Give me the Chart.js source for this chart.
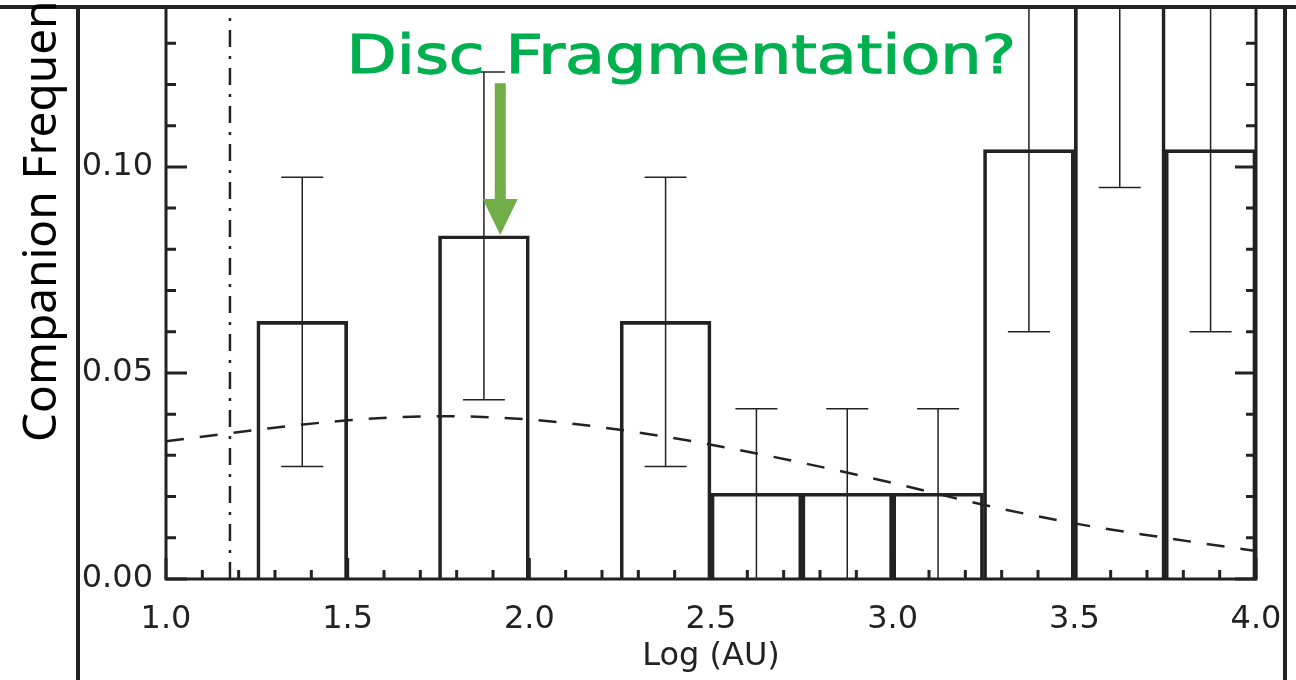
<!DOCTYPE html>
<html>
<head>
<meta charset="utf-8">
<script src="https://cdn.jsdelivr.net/npm/chart.js@4.4.1/dist/chart.umd.min.js"></script>
<style>
  html, body { margin: 0; padding: 0; background: #fff; }
</style>
</head>
<body>
<canvas id="chart" width="1296" height="680"></canvas>
<script>
// histogram bins (log AU), width 0.25
const binCenters = [1.375, 1.625, 1.875, 2.125, 2.375, 2.625, 2.875, 3.125, 3.375, 3.625, 3.875];
const freq = [0.0625, null, 0.0833, null, 0.0625, 0.0208, 0.0208, 0.0208, 0.1042, 0.146, 0.1042];
const errLo = [0.0273, null, 0.0435, null, 0.0273, 0, 0, 0, 0.060, 0.095, 0.060];
const errHi = [0.0975, null, 0.1230, null, 0.0975, 0.0413, 0.0413, 0.0413, 0.148, 0.197, 0.148];

// field distribution (dashed curve)
const curveX = [1.0, 1.25, 1.5, 1.75, 2.0, 2.25, 2.5, 2.75, 3.0, 3.25, 3.5, 3.75, 4.0];
const curveY = [0.0334, 0.0362, 0.0385, 0.0395, 0.0387, 0.0362, 0.0326, 0.0282, 0.0233, 0.0180, 0.0135, 0.0100, 0.0068];

// resolution limit (dash-dot line)
const limitX = 1.176;

const xTicks = [1.0, 1.5, 2.0, 2.5, 3.0, 3.5, 4.0];
const yTicks = [0.00, 0.05, 0.10];
const yMax = 0.1388;

const ink = "#222";

const errorBars = {
  id: "errorBars",
  afterDatasetsDraw(chart) {
    const { ctx, chartArea: a, scales: { x, y } } = chart;
    ctx.save();
    ctx.beginPath();
    ctx.rect(a.left, a.top, a.right - a.left, a.bottom - a.top);
    ctx.clip();
    ctx.strokeStyle = ink;
    ctx.lineWidth = 1.5;
    binCenters.forEach((c, i) => {
      if (errLo[i] === null) return;
      const px = x.getPixelForValue(c);
      const lo = y.getPixelForValue(errLo[i]);
      const hi = y.getPixelForValue(errHi[i]);
      ctx.beginPath();
      ctx.moveTo(px, lo);
      ctx.lineTo(px, hi);
      ctx.moveTo(px - 21, lo);
      ctx.lineTo(px + 21, lo);
      ctx.moveTo(px - 21, hi);
      ctx.lineTo(px + 21, hi);
      ctx.stroke();
    });
    ctx.restore();
  },
};

const frame = {
  id: "frame",
  afterDraw(chart) {
    const { ctx, chartArea: a, scales: { x, y } } = chart;
    ctx.save();
    ctx.strokeStyle = ink;
    ctx.lineWidth = 3;

    // plot box (left, bottom, right)
    ctx.beginPath();
    ctx.moveTo(a.left, a.top);
    ctx.lineTo(a.left, a.bottom);
    ctx.lineTo(a.right, a.bottom);
    ctx.lineTo(a.right, a.top);
    ctx.stroke();

    // inward ticks
    ctx.beginPath();
    for (let k = 0; k <= 13; k++) {
      const v = k / 100;
      const len = k % 5 === 0 ? 21 : 10;
      const py = y.getPixelForValue(v);
      ctx.moveTo(a.left, py);
      ctx.lineTo(a.left + len, py);
      ctx.moveTo(a.right, py);
      ctx.lineTo(a.right - len, py);
    }
    for (let k = 10; k <= 40; k++) {
      const v = k / 10;
      const len = k % 5 === 0 ? 21 : 9;
      const px = x.getPixelForValue(v);
      ctx.moveTo(px, a.bottom);
      ctx.lineTo(px, a.bottom - len);
    }
    ctx.stroke();

    // slide frame lines
    ctx.lineWidth = 4;
    ctx.beginPath();
    ctx.moveTo(0, 7);
    ctx.lineTo(chart.width, 7);
    ctx.moveTo(78, 7);
    ctx.lineTo(78, chart.height);
    ctx.moveTo(1285, 7);
    ctx.lineTo(1285, chart.height);
    ctx.stroke();

    // y title (cut off at the top like the slide)
    ctx.fillStyle = "#000";
    ctx.font = '46px "Noto Sans"';
    ctx.textAlign = "left";
    ctx.textBaseline = "alphabetic";
    ctx.translate(56, 442);
    ctx.rotate(-Math.PI / 2);
    ctx.fillText("Companion Frequency", 0, 0);
    ctx.restore();

    // annotation: green arrow to the 1.75-2.0 bin
    ctx.save();
    const tipX = x.getPixelForValue(1.92);
    const tipY = y.getPixelForValue(0.0835);
    const headY = y.getPixelForValue(0.0922);
    const topY = y.getPixelForValue(0.1203);
    ctx.fillStyle = "#70ad47";
    ctx.beginPath();
    ctx.moveTo(tipX - 5.5, topY);
    ctx.lineTo(tipX + 5.5, topY);
    ctx.lineTo(tipX + 5.5, headY);
    ctx.lineTo(tipX + 17.5, headY);
    ctx.lineTo(tipX, tipY);
    ctx.lineTo(tipX - 17.5, headY);
    ctx.lineTo(tipX - 5.5, headY);
    ctx.closePath();
    ctx.fill();

    // annotation text
    const label = "Disc Fragmentation?";
    const tx = x.getPixelForValue(1.497);
    const tw = x.getPixelForValue(3.34) - tx;
    const ty = y.getPixelForValue(0.1228);
    ctx.fillStyle = "#00b050";
    ctx.font = '500 54px "DejaVu Sans"';
    ctx.textBaseline = "alphabetic";
    const w = ctx.measureText(label).width;
    ctx.translate(tx, ty);
    ctx.scale(tw / w, 1);
    ctx.fillText(label, 0, 0);
    ctx.lineWidth = 1.2;
    ctx.strokeStyle = "#00b050";
    ctx.strokeText(label, 0, 0);
    ctx.restore();
  },
};

new Chart(document.getElementById("chart"), {
  type: "bar",
  data: {
    datasets: [
      {
        label: "histogram",
        data: binCenters.map((c, i) => ({ x: c, y: freq[i] })),
        backgroundColor: "rgba(0,0,0,0)",
        borderColor: ink,
        borderWidth: 3,
        borderSkipped: "bottom",
        barPercentage: 1,
        categoryPercentage: 1,
        order: 2,
      },
      {
        type: "line",
        label: "field",
        data: curveX.map((v, i) => ({ x: v, y: curveY[i] })),
        borderColor: ink,
        borderWidth: 2.5,
        borderDash: [18, 16],
        pointRadius: 0,
        cubicInterpolationMode: "monotone",
        fill: false,
        order: 1,
      },
      {
        type: "line",
        label: "limit",
        data: [{ x: limitX, y: 0 }, { x: limitX, y: yMax }],
        borderColor: ink,
        borderWidth: 2.5,
        borderDash: [17, 9, 3, 9],
        pointRadius: 0,
        fill: false,
        order: 1,
      },
    ],
  },
  options: {
    responsive: false,
    animation: false,
    devicePixelRatio: 1,
    layout: { padding: { top: 7, right: 40, left: 0, bottom: 0 } },
    plugins: {
      legend: { display: false },
      tooltip: { enabled: false },
    },
    scales: {
      x: {
        type: "linear",
        min: 1.0,
        max: 4.0,
        offset: false,
        grid: { display: false, drawTicks: false },
        border: { display: false },
        afterBuildTicks: (s) => { s.ticks = xTicks.map((v) => ({ value: v })); },
        afterFit: (s) => { s.height = 101; s.paddingLeft = 0; s.paddingRight = 0; },
        ticks: {
          padding: 21,
          color: ink,
          font: { family: "DejaVu Sans", size: 32 },
          callback: (v) => Number(v).toFixed(1),
        },
        title: {
          display: true,
          text: "Log (AU)",
          color: ink,
          font: { family: "DejaVu Sans", size: 32 },
          padding: { top: 0, bottom: 4 },
        },
      },
      y: {
        type: "linear",
        min: 0,
        max: yMax,
        grid: { display: false, drawTicks: false },
        border: { display: false },
        afterBuildTicks: (s) => { s.ticks = yTicks.map((v) => ({ value: v })); },
        afterFit: (s) => { s.width = 166; s.paddingTop = 0; s.paddingBottom = 0; },
        ticks: {
          padding: 13,
          color: ink,
          font: { family: "DejaVu Sans", size: 32 },
          callback: (v) => Number(v).toFixed(2),
        },
      },
    },
  },
  plugins: [errorBars, frame],
});
</script>
</body>
</html>
